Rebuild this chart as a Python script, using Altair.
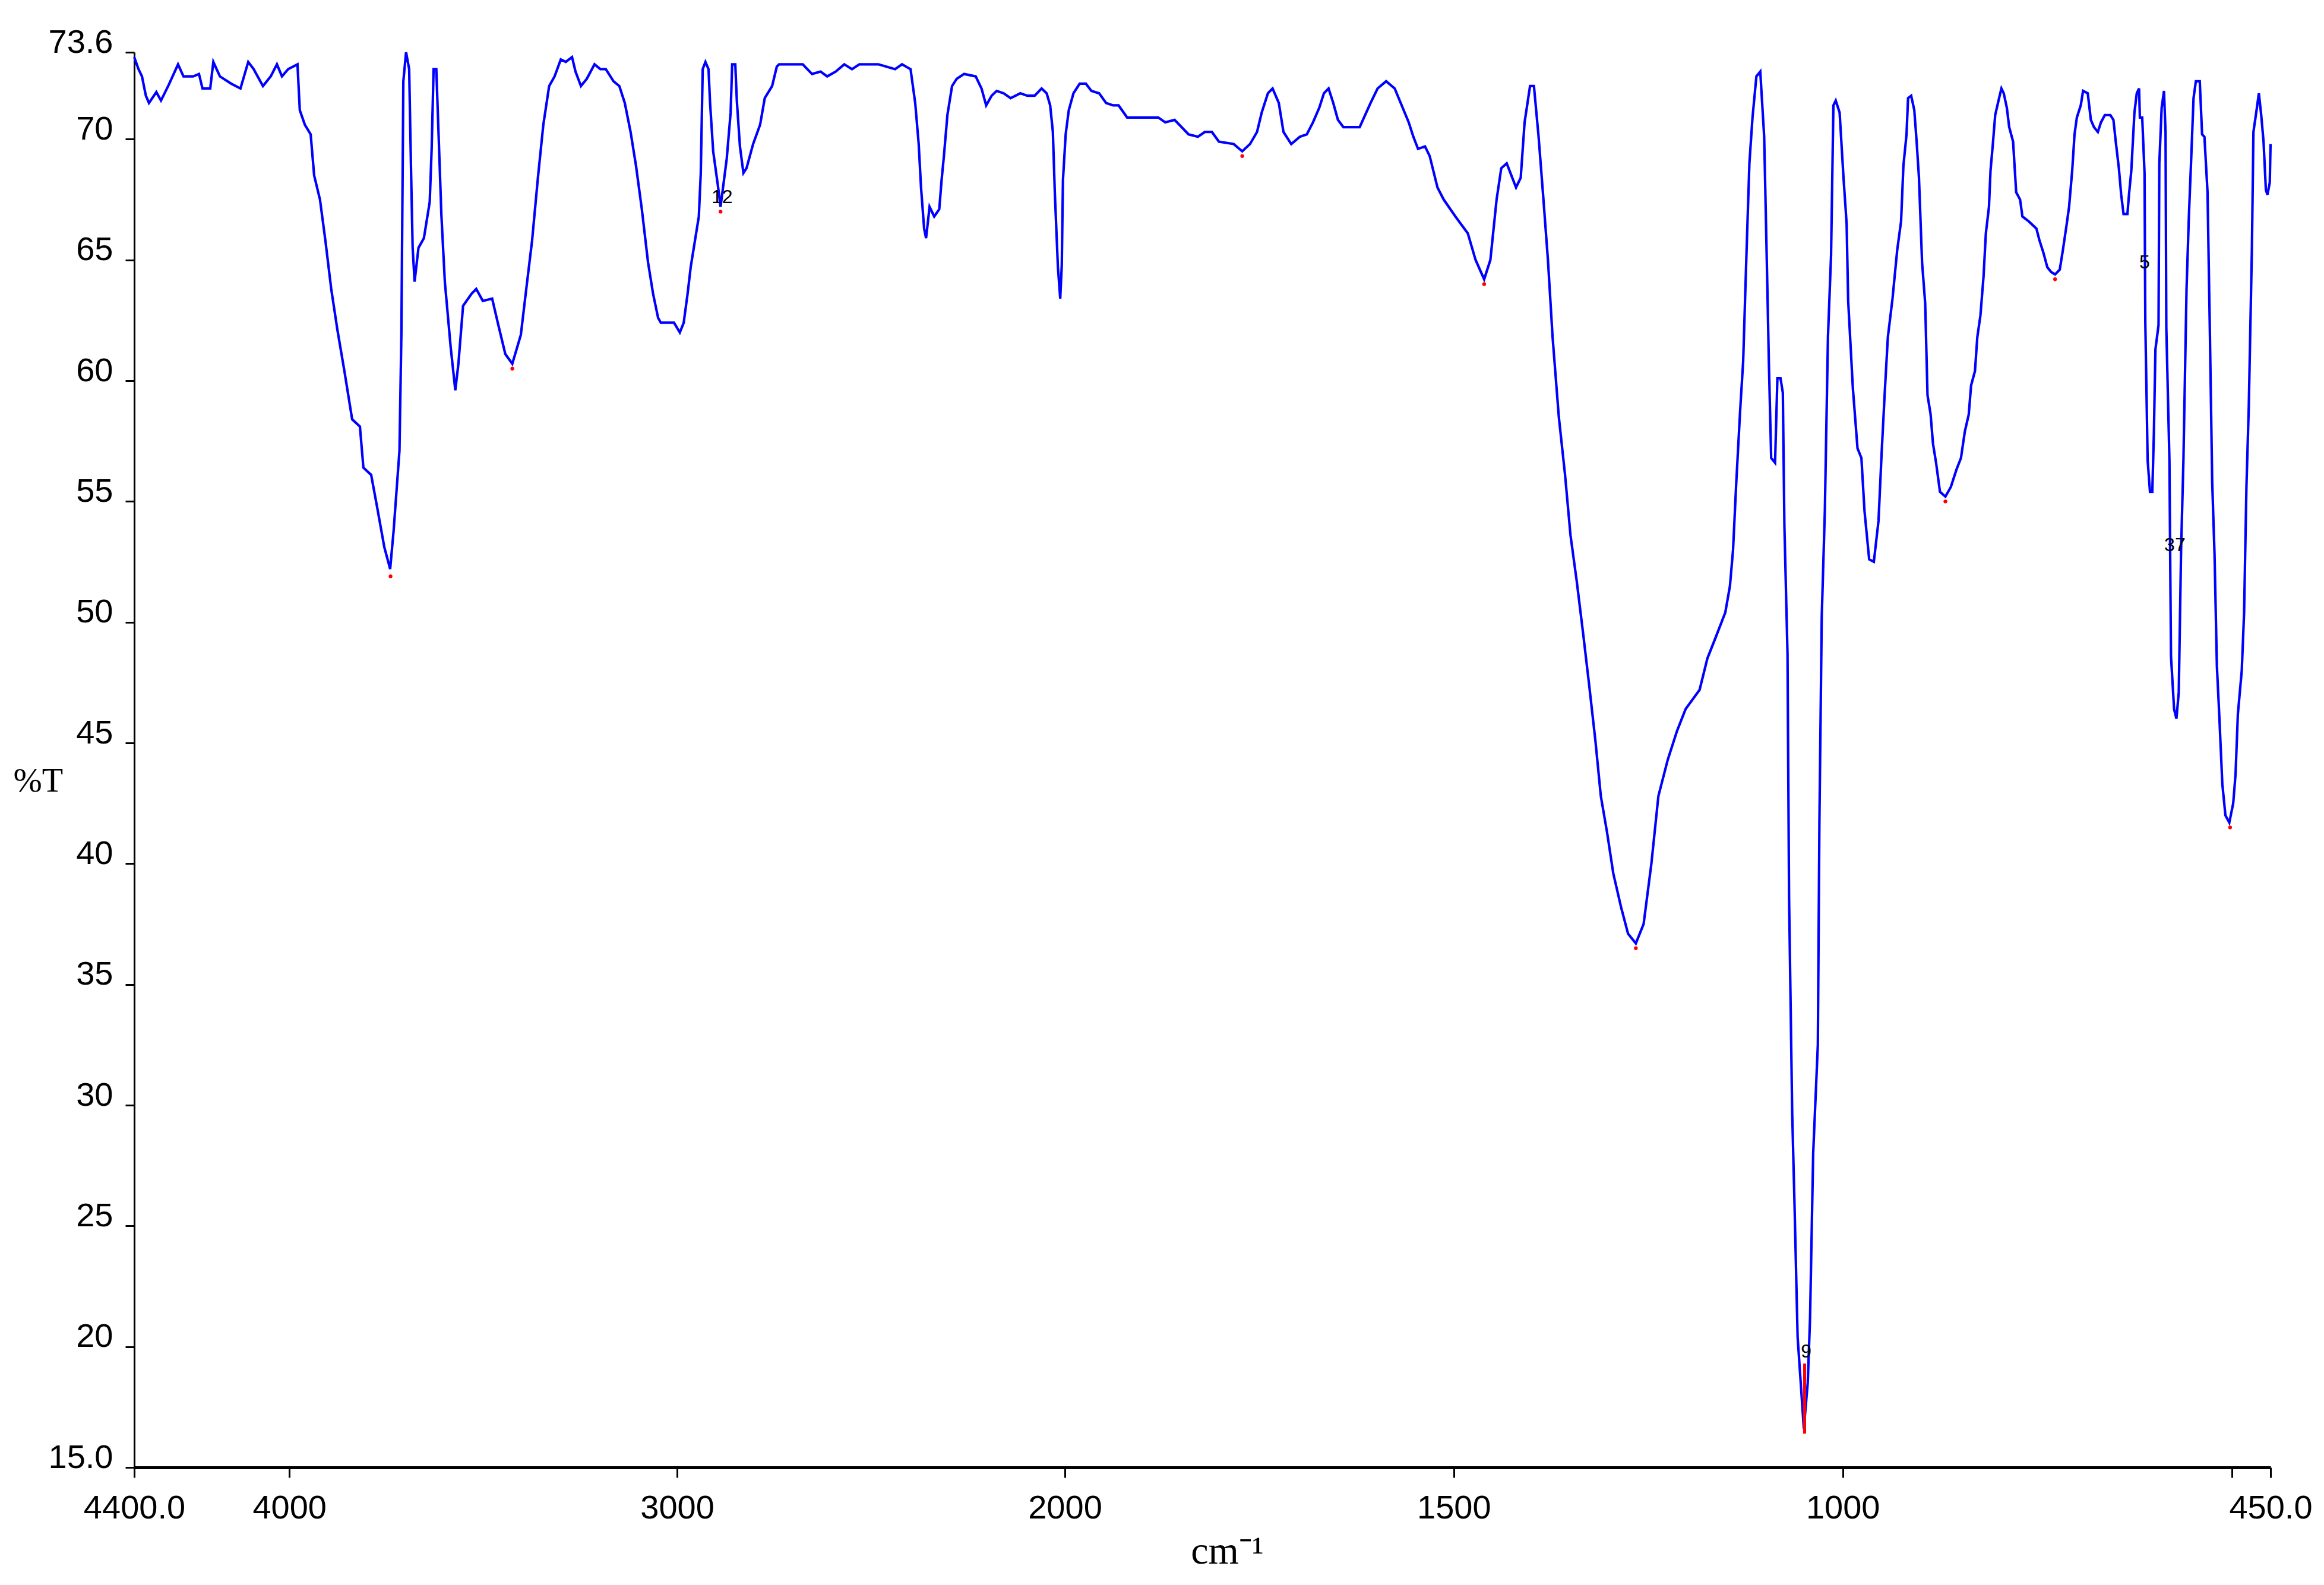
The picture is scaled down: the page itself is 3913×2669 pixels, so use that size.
import altair as alt
import pandas as pd

# Wavenumber (cm-1) and %T
wavenumber = [
    4400, 4389, 4380, 4370, 4362, 4343, 4331, 4311, 4287, 4273, 4248, 4233, 4224, 4204, 4196,
    4179, 4150, 4126, 4106, 4092, 4068, 4048, 4032, 4019, 4003, 3979, 3973, 3960, 3945, 3936,
    3921, 3907, 3892, 3876, 3858, 3838, 3818, 3809, 3789, 3774, 3755, 3740, 3731, 3716, 3711,
    3706, 3699, 3691, 3686, 3682, 3677, 3667, 3653, 3638, 3633, 3628, 3621, 3616, 3608, 3599,
    3584, 3572, 3564, 3552, 3530, 3518, 3501, 3477, 3461, 3443, 3425, 3403, 3389, 3374, 3359,
    3345, 3330, 3316, 3300, 3287, 3271, 3262, 3248, 3233, 3213, 3198, 3184, 3164, 3149, 3135,
    3120, 3106, 3091, 3075, 3062, 3049, 3042, 3008, 2993, 2983, 2973, 2965, 2954, 2944, 2939,
    2934, 2927, 2919, 2915, 2907, 2895, 2888, 2872, 2862, 2858, 2850, 2846, 2838, 2829, 2821,
    2804, 2786, 2774, 2755, 2743, 2737, 2676, 2652, 2630, 2613, 2591, 2569, 2549, 2530, 2481,
    2438, 2420, 2398, 2386, 2377, 2371, 2363, 2358, 2349, 2337, 2324, 2318, 2312, 2303, 2291,
    2279, 2260, 2230, 2215, 2203, 2189, 2176, 2158, 2140, 2115, 2097, 2078, 2060, 2047, 2038,
    2031, 2026, 2018, 2012, 2008, 2005, 1999, 1995, 1989, 1981, 1973, 1966, 1956, 1947, 1938,
    1931, 1920, 1880, 1871, 1859, 1850, 1841, 1829, 1820, 1811, 1802, 1783, 1772, 1762, 1753,
    1747, 1739, 1733, 1725, 1719, 1709, 1698, 1689, 1681, 1673, 1667, 1661, 1655, 1649, 1642,
    1621, 1614, 1607, 1598, 1587, 1576, 1567, 1558, 1552, 1546, 1537, 1531, 1521, 1513, 1498,
    1482, 1472, 1461, 1453, 1445, 1439, 1432, 1420, 1414, 1409, 1402, 1397, 1391, 1385, 1379,
    1373, 1365, 1357, 1350, 1342, 1334, 1326, 1318, 1311, 1303, 1295, 1285, 1276, 1266, 1256,
    1246, 1237, 1225, 1213, 1202, 1184, 1174, 1163, 1151, 1145, 1141, 1137, 1132, 1128, 1124,
    1120, 1116, 1111, 1106, 1101, 1097, 1095, 1092, 1087, 1084, 1080, 1077, 1075, 1071, 1069,
    1065, 1062, 1058, 1054, 1050, 1045, 1042, 1038, 1032, 1030, 1027, 1023, 1019, 1015, 1012,
    1009, 1004, 999, 995, 993, 987, 981, 976, 972, 966, 960, 954, 950, 946, 942,
    936, 930, 925, 922, 918, 916, 912, 908, 905, 902, 898, 894, 891, 887, 884,
    880, 875, 868, 861, 854, 848, 843, 838, 835, 830, 827, 823, 819, 816, 812,
    810, 807, 804, 799, 796, 793, 789, 786, 781, 777, 772, 769, 761, 751, 747,
    742, 737, 732, 727, 721, 717, 712, 709, 705, 702, 699, 694, 691, 685, 681,
    677, 672, 668, 663, 656, 652, 649, 645, 642, 639, 634, 632, 629, 625, 622,
    619, 618, 615, 612, 611, 608, 605, 602, 600, 598, 594, 593, 590, 587, 585,
    584, 580, 578, 574, 571, 568, 565, 562, 558, 555, 552, 549, 546, 541, 538,
    535, 531, 528, 525, 522, 519, 516, 512, 508, 503, 498, 495, 492, 487, 484,
    481, 478, 474, 472, 468, 465, 462, 459, 456, 454, 451, 450,
]
transmittance = [
    73.4, 72.9, 72.6, 71.8, 71.5, 71.95, 71.6, 72.25, 73.1, 72.6, 72.6, 72.7, 72.1, 72.1, 73.2,
    72.6, 72.3, 72.1, 73.2, 72.9, 72.2, 72.6, 73.1, 72.6, 72.9, 73.1, 71.2, 70.6, 70.2, 68.5,
    67.5, 65.8, 63.8, 62.1, 60.4, 58.4, 58.1, 56.4, 56.1, 54.8, 53.1, 52.2, 53.8, 57.1, 62.0,
    72.4, 73.6, 72.9, 68.6, 65.5, 64.1, 65.5, 65.9, 67.4, 69.6, 72.9, 72.9, 70.6, 66.9, 64.1,
    61.4, 59.6, 60.7, 63.1, 63.6, 63.8, 63.3, 63.4, 62.3, 61.1, 60.7, 61.9, 63.8, 65.8, 68.4,
    70.6, 72.2, 72.6, 73.3, 73.2, 73.4, 72.8, 72.2, 72.5, 73.1, 72.9, 72.9, 72.4, 72.2, 71.5,
    70.3, 68.9, 67.1, 64.9, 63.6, 62.6, 62.4, 62.4, 62.0, 62.4, 63.6, 64.7, 65.8, 66.8, 68.6,
    72.9, 73.2, 72.9, 71.5, 69.5, 68.1, 67.2, 69.2, 71.1, 73.1, 73.1, 71.6, 69.7, 68.6, 68.8,
    69.8, 70.6, 71.7, 72.2, 73.0, 73.1, 73.1, 72.7, 72.8, 72.6, 72.8, 73.1, 72.9, 73.1, 73.1,
    72.9, 73.1, 72.9, 71.5, 69.8, 68.0, 66.3, 65.9, 67.2, 66.8, 67.1, 68.3, 69.3, 71.0, 72.2,
    72.5, 72.7, 72.6, 72.1, 71.4, 71.8, 72.0, 71.9, 71.7, 71.9, 71.8, 71.8, 72.1, 71.9, 71.4,
    70.3, 67.8, 64.7, 63.4, 64.8, 68.3, 70.2, 71.2, 71.9, 72.3, 72.3, 72.0, 71.9, 71.5, 71.4,
    71.4, 70.9, 70.9, 70.7, 70.8, 70.5, 70.2, 70.1, 70.3, 70.3, 69.9, 69.8, 69.5, 69.8, 70.3,
    71.1, 71.9, 72.1, 71.5, 70.3, 69.8, 70.1, 70.2, 70.7, 71.3, 71.9, 72.1, 71.5, 70.8, 70.5,
    70.5, 71.0, 71.5, 72.1, 72.4, 72.1, 71.4, 70.7, 70.1, 69.6, 69.7, 69.3, 68.0, 67.5, 66.8,
    66.1, 65.0, 64.2, 65.0, 67.5, 68.8, 69.0, 68.0, 68.4, 70.7, 72.2, 72.2, 70.1, 67.6, 65.0,
    61.8, 58.5, 56.1, 53.6, 51.7, 49.6, 47.4, 45.1, 42.8, 41.3, 39.6, 38.2, 37.1, 36.7, 37.5,
    40.0, 42.8, 44.3, 45.5, 46.4, 47.2, 48.5, 49.4, 50.4, 51.5, 53.0, 55.7, 58.7, 60.8, 65.0,
    69.0, 70.9, 72.6, 72.8, 70.1, 64.0, 60.8, 56.8, 56.6, 60.1, 60.1, 59.5, 54.0, 48.7, 38.6,
    29.7, 25.9, 20.4, 18.5, 16.6, 18.5, 21.2, 28.0, 32.5, 41.7, 50.2, 54.6, 61.8, 65.2, 71.4,
    71.6, 71.1, 68.4, 66.5, 63.3, 59.7, 57.2, 56.8, 54.6, 52.6, 52.5, 54.2, 57.0, 59.5, 61.8,
    63.4, 65.4, 66.6, 68.9, 70.2, 71.7, 71.8, 71.2, 69.9, 68.4, 64.9, 63.2, 59.4, 58.6, 57.4,
    56.6, 55.4, 55.2, 55.6, 56.3, 56.8, 57.9, 58.6, 59.8, 60.4, 61.8, 62.7, 64.3, 66.1, 67.2,
    68.7, 69.8, 71.0, 71.7, 72.1, 71.9, 71.3, 70.5, 69.9, 67.8, 67.5, 66.8, 66.6, 66.3, 65.8,
    65.3, 64.7, 64.5, 64.4, 64.6, 65.4, 66.5, 67.2, 68.7, 70.2, 70.9, 71.4, 72.0, 71.9, 70.8,
    70.5, 70.3, 70.7, 71.0, 71.0, 70.8, 69.9, 68.8, 67.7, 66.9, 66.9, 67.7, 68.7, 71.1, 71.9,
    72.1, 70.9, 70.9, 68.6, 62.4, 56.7, 55.4, 55.4, 57.8, 61.3, 62.3, 69.0, 71.3, 72.0, 70.3,
    62.2, 56.7, 48.6, 46.4, 46.0, 47.1, 53.0, 56.7, 63.8, 66.8, 69.2, 71.7, 72.4, 72.4, 70.2,
    70.1, 67.8, 62.0, 55.8, 52.8, 48.2, 46.2, 43.3, 42.0, 41.7, 42.5, 43.7, 46.2, 48.0, 50.4,
    55.6, 58.9, 65.4, 70.3, 71.2, 71.9, 71.0, 69.9, 67.9, 67.7, 68.2, 69.8,
]

# Peak-pick annotations left on the instrument printout
peak_labels = ["12", "9", "37", "5"]
peak_label_wn = [2884, 1047, 573, 612]
peak_label_t = [67.6, 19.8, 53.2, 64.9]

marker_wn = [3739, 3425, 2888, 1772, 1461, 1266, 868, 727, 502]
marker_t = [51.9, 60.5, 67.0, 69.3, 64.0, 36.5, 55.0, 64.2, 41.5]

rule_wn = [1049]
rule_t_top = [19.3]
rule_t_bottom = [16.4]

x_ticks = [4400, 4000, 3000, 2000, 1500, 1000, 500, 450]
y_ticks = [15, 20, 25, 30, 35, 40, 45, 50, 55, 60, 65, 70, 73.6]

W, H = 3597, 2383

spec_df = pd.DataFrame({"wn": wavenumber, "T": transmittance, "idx": range(len(wavenumber))})
lab_df = pd.DataFrame({"wn": peak_label_wn, "T": peak_label_t, "txt": peak_labels})
mk_df = pd.DataFrame({"wn": marker_wn, "T": marker_t})
rule_df = pd.DataFrame({"wn": rule_wn, "T": rule_t_top, "T2": rule_t_bottom})

tick_font = "Liberation Sans Narrow, Liberation Sans, Arial Narrow, sans-serif"
title_font = "Liberation Serif, Times New Roman, serif"

x_scale = alt.Scale(domain=[4400, 2000, 450], range=[0, W * 1567 / 3597, W], nice=False, zero=False)
y_scale = alt.Scale(domain=[15, 73.6], nice=False, zero=False)

x_axis = alt.Axis(
    values=x_ticks,
    labelExpr="datum.value == 4400 ? '4400.0' : datum.value == 450 ? '450.0' : datum.value == 500 ? '' : format(datum.value, 'd')",
    labelFont=tick_font, labelFontSize=56, labelColor="black", labelPadding=24,
    labelOverlap=False, labelFlush=False,
    tickSize=17, tickWidth=3, tickColor="black",
    domainWidth=5, domainColor="black", grid=False,
    title="cm⁻¹", titleFont=title_font, titleFontSize=66, titleFontWeight="normal",
    titleColor="black", titleX=1840, titleY=161, titleBaseline="alphabetic", titleAlign="center",
)
y_axis = alt.Axis(
    values=y_ticks,
    labelExpr="datum.value == 15 ? '15.0' : datum.value == 73.6 ? '73.6' : format(datum.value, 'd')",
    labelFont=tick_font, labelFontSize=56, labelColor="black", labelPadding=21,
    labelBaseline="alphabetic", labelOverlap=False, labelFlush=False,
    tickSize=15, tickWidth=3, tickColor="black",
    domainWidth=3, domainColor="black", grid=False,
    title="%T", titleFont=title_font, titleFontSize=58, titleFontWeight="normal",
    titleColor="black", titleAngle=0, titleAlign="left", titleBaseline="alphabetic",
    titleX=-204, titleY=1244,
)

xenc = alt.X("wn:Q", scale=x_scale, axis=x_axis)
yenc = alt.Y("T:Q", scale=y_scale, axis=y_axis)

line = alt.Chart(spec_df).mark_line(color="#0000FF", strokeWidth=4.2).encode(
    x=xenc, y=yenc, order="idx:Q"
)
markers = alt.Chart(mk_df).mark_point(color="red", filled=True, size=40, opacity=1).encode(x=xenc, y=yenc)
rule = alt.Chart(rule_df).mark_rule(color="red", strokeWidth=5).encode(x=xenc, y=yenc, y2="T2:Q")
labels = alt.Chart(lab_df).mark_text(
    font="Liberation Sans", fontSize=32, color="black", align="center", baseline="middle"
).encode(x=xenc, y=yenc, text="txt:N")

chart = alt.layer(line, rule, markers, labels).properties(
    width=W, height=H,
    autosize=alt.AutoSizeParams(type="none"),
    padding={"left": 218, "top": 80, "right": 82, "bottom": 190},
    background="white",
).configure_view(stroke=None)

chart.save("out.html", embed_options={"renderer": "svg", "actions": False})
